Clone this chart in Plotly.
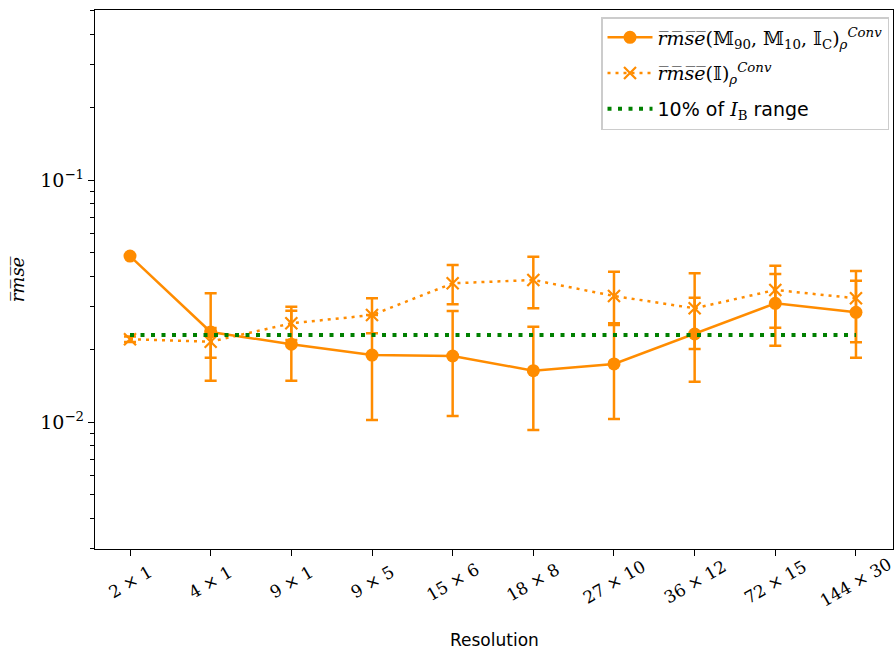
import plotly.graph_objects as go

# ---------------- data ----------------
resolutions = ["2 × 1", "4 × 1", "9 × 1", "9 × 5", "15 × 6", "18 × 8",
               "27 × 10", "36 × 12", "72 × 15", "144 × 30"]

rmse_conv = [0.0485, 0.02354, 0.02095, 0.01891, 0.01874, 0.01629,
             0.01737, 0.02310, 0.03094, 0.02840]
rmse_conv_upper = [0.0485, 0.03402, 0.02884, 0.02767, 0.02876, 0.02476,
                   0.02516, 0.03263, 0.04089, 0.03836]
rmse_conv_lower = [0.0485, 0.01482, 0.01482, 0.01019, 0.01059, 0.00927,
                   0.01029, 0.01467, 0.02066, 0.01843]

rmse_i = [0.02197, 0.02147, 0.02557, 0.02767, 0.03742, 0.03863,
          0.03317, 0.02950, 0.03512, 0.03245]
rmse_i_upper = [0.02255, 0.02445, 0.02996, 0.03245, 0.04455, 0.04819,
                0.04179, 0.04116, 0.04425, 0.04207]
rmse_i_lower = [0.02141, 0.01843, 0.02183, 0.02325, 0.03065, 0.02950,
                0.02557, 0.02003, 0.02453, 0.02135]

ib_range_10pct = 0.02288

# ---------------- style ----------------
ORANGE = "#FF8C00"
GREEN = "#008000"
SERIF = "DejaVu Serif"
SANS = "DejaVu Sans"

xs = list(range(len(resolutions)))

def up(v, u):
    return [a - b for a, b in zip(u, v)]

def dn(v, l):
    return [b - a for a, b in zip(l, v)]

fig = go.Figure()

fig.add_trace(go.Scatter(
    x=xs, y=rmse_conv, mode="lines+markers", legendgroup="a",
    name="<i>r̅m̅s̅e̅</i>(𝕄<sub>90</sub>, 𝕄<sub>10</sub>, 𝕀<sub>C</sub>)<sub><i>ρ</i></sub><sup><i>Conv</i></sup>",
    line=dict(color=ORANGE, width=2.5),
    marker=dict(symbol="circle", size=13, color=ORANGE),
    error_y=dict(type="data", symmetric=False,
                 array=up(rmse_conv, rmse_conv_upper),
                 arrayminus=dn(rmse_conv, rmse_conv_lower),
                 color=ORANGE, thickness=2.5, width=6),
))

fig.add_trace(go.Scatter(
    x=xs, y=rmse_i, mode="lines+markers", legendgroup="b",
    name="<i>r̅m̅s̅e̅</i>(𝕀)<sub><i>ρ</i></sub><sup><i>Conv</i></sup>",
    line=dict(color=ORANGE, width=2.5, dash="3px,5px"),
    marker=dict(symbol="x-thin", size=12, color=ORANGE,
                line=dict(color=ORANGE, width=2.2)),
    error_y=dict(type="data", symmetric=False,
                 array=up(rmse_i, rmse_i_upper),
                 arrayminus=dn(rmse_i, rmse_i_lower),
                 color=ORANGE, thickness=2.5, width=6),
))

fig.add_trace(go.Scatter(
    x=[xs[0], xs[-1]], y=[ib_range_10pct, ib_range_10pct], mode="lines",
    legendgroup="c",
    name="<span style='font-family:DejaVu Sans'>10% of </span><i>I</i><sub>B</sub><span style='font-family:DejaVu Sans'> range</span>",
    line=dict(color=GREEN, width=4, dash="4px,6.5px"),
))

# rotated, centred x tick labels
for i, lab in enumerate(resolutions):
    fig.add_annotation(x=i, y=-0.061, xref="x", yref="paper", text=lab,
                       showarrow=False, textangle=-30,
                       xanchor="center", yanchor="middle",
                       font=dict(family=SERIF, size=17, color="black"))

# x axis title
fig.add_annotation(x=0.5, y=-0.169, xref="paper", yref="paper",
                   text="Resolution", showarrow=False,
                   xanchor="center", yanchor="middle",
                   font=dict(family=SANS, size=17, color="black"))

minor_vals = [k * 10 ** e for e in (-3, -2, -1) for k in range(2, 10)]
minor_vals = [v for v in minor_vals if 0.003 <= v <= 0.5]

fig.update_layout(
    width=895, height=654,
    margin=dict(l=95, r=2, t=10, b=105),
    plot_bgcolor="white", paper_bgcolor="white",
    showlegend=True,
    legend=dict(x=0.995, y=0.987, xanchor="right", yanchor="top",
                bgcolor="rgba(255,255,255,0.8)", bordercolor="#cccccc",
                borderwidth=1.5, font=dict(family=SERIF, size=19, color="black"),
                tracegroupgap=8, itemwidth=45),
    xaxis=dict(range=[-0.434, 9.459], tickmode="array", tickvals=xs,
               ticktext=[""] * len(xs), ticks="outside", ticklen=6,
               tickwidth=1.2, tickcolor="black", showgrid=False,
               zeroline=False, showline=True, linecolor="black",
               linewidth=1.3, mirror=True),
    yaxis=dict(type="log", range=[-2.5248, -0.2975], tickmode="array",
               tickvals=[0.01, 0.1],
               ticktext=["10<sup>−2</sup>", "10<sup>−1</sup>"],
               ticks="outside", ticklen=6, tickwidth=1.2, tickcolor="black",
               tickfont=dict(family=SERIF, size=19, color="black"),
               minor=dict(tickvals=minor_vals, ticks="outside", ticklen=3.5,
                          tickwidth=1, tickcolor="black", showgrid=False),
               showgrid=False, zeroline=False, showline=True,
               linecolor="black", linewidth=1.3, mirror=True,
               title=dict(text="<i>r̅m̅s̅e̅</i>", standoff=10,
                          font=dict(family=SERIF, size=18, color="black"))),
)

fig.write_html("out.html")
